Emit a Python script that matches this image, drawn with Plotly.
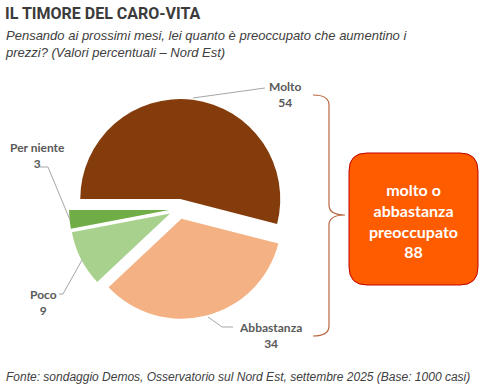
import plotly.graph_objects as go

W, H = 496, 387

# ---- data ----
categories = ["Molto", "Abbastanza", "Poco", "Per niente"]
values = [54, 34, 9, 3]
colors = ["#843C0C", "#F4B183", "#A9D18E", "#70AD47"]
summary_label = "molto o<br>abbastanza<br>preoccupato"
summary_value = values[0] + values[1]

title = "IL TIMORE DEL CARO-VITA"
subtitle = "Pensando ai prossimi mesi, lei quanto è preoccupato che aumentino i<br>prezzi? (Valori percentuali – Nord Est)"
footer = "Fonte: sondaggio Demos, Osservatorio sul Nord Est, settembre 2025 (Base: 1000 casi)"


def X(x):
    return x / W


def Y(y):
    return 1 - y / H


def path(points_cmds):
    out = []
    for cmd, pts in points_cmds:
        coords = " ".join(f"{X(a):.5f},{Y(b):.5f}" for a, b in pts)
        out.append(f"{cmd}{coords}")
    return " ".join(out)


fig = go.Figure()
fig.add_trace(go.Pie(
    labels=categories,
    values=values,
    sort=False,
    direction="clockwise",
    rotation=270,
    pull=[0.1, 0.1, 0.1, 0.1],
    marker=dict(colors=colors, line=dict(width=0)),
    textinfo="none",
    hoverinfo="label+value",
    showlegend=False,
    domain=dict(x=[X(69), X(289)], y=[Y(319), Y(99)]),
))

label_pos = {
    "Molto": (285, 94),
    "Abbastanza": (270, 335),
    "Poco": (43, 302),
    "Per niente": (37, 155),
}
leaders = {
    "Molto": [(193, 98), (265, 88)],
    "Abbastanza": [(208, 317), (222, 327), (233, 327)],
    "Poco": [(82, 260), (63, 294), (59, 294)],
    "Per niente": [(70, 220), (48, 167), (40, 167)],
}

annotations = []
shapes = []
for cat, val in zip(categories, values):
    x, y = label_pos[cat]
    annotations.append(dict(
        x=X(x), y=Y(y), xref="paper", yref="paper",
        text=f"<b>{cat}</b><br><b>{val}</b>",
        showarrow=False, xanchor="center", yanchor="middle",
        font=dict(family="Lato", size=12, color="#595959"),
    ))
    pts = leaders[cat]
    shapes.append(dict(
        type="path", xref="paper", yref="paper",
        path=path([("M", [pts[0]])] + [("L", [p]) for p in pts[1:]]),
        line=dict(color="#A6A6A6", width=1),
    ))

# curly brace
brace = path([
    ("M", [(313, 95)]),
    ("Q", [(329, 95), (329, 105)]),
    ("L", [(329, 205)]),
    ("Q", [(329, 215), (345, 215)]),
    ("Q", [(329, 215), (329, 225)]),
    ("L", [(329, 326)]),
    ("Q", [(329, 336), (313, 336)]),
])
shapes.append(dict(type="path", xref="paper", yref="paper", path=brace,
                   line=dict(color="#B9653F", width=1.2)))

# rounded box
x0, x1, y0, y1, r = 349, 478, 153, 285, 18
box = path([
    ("M", [(x0 + r, y0)]),
    ("L", [(x1 - r, y0)]),
    ("Q", [(x1, y0), (x1, y0 + r)]),
    ("L", [(x1, y1 - r)]),
    ("Q", [(x1, y1), (x1 - r, y1)]),
    ("L", [(x0 + r, y1)]),
    ("Q", [(x0, y1), (x0, y1 - r)]),
    ("L", [(x0, y0 + r)]),
    ("Q", [(x0, y0), (x0 + r, y0)]),
]) + " Z"
shapes.append(dict(type="path", xref="paper", yref="paper", path=box,
                   fillcolor="#FF5C00", line=dict(color="#C00000", width=1)))

annotations.append(dict(
    x=X(413.5), y=Y(220), xref="paper", yref="paper",
    text=f"<b>{summary_label}<br>{summary_value}</b>",
    showarrow=False, xanchor="center", yanchor="middle",
    font=dict(family="Lato", size=16, color="white"),
))

annotations.append(dict(
    x=X(3), y=Y(14), xref="paper", yref="paper", text=f"<b>{title}</b>",
    showarrow=False, xanchor="left", yanchor="middle",
    font=dict(family="Roboto", size=16, color="#3B3B3B"),
))
annotations.append(dict(
    x=X(3), y=Y(44), xref="paper", yref="paper", text=f"<i>{subtitle}</i>",
    showarrow=False, xanchor="left", yanchor="middle", align="left",
    font=dict(family="Liberation Sans", size=13, color="#404040"),
))
annotations.append(dict(
    x=X(4), y=Y(377), xref="paper", yref="paper", text=f"<i>{footer}</i>",
    showarrow=False, xanchor="left", yanchor="middle",
    font=dict(family="Liberation Sans", size=12, color="#404040"),
))

fig.update_layout(
    width=W, height=H,
    margin=dict(l=0, r=0, t=0, b=0),
    paper_bgcolor="white", plot_bgcolor="white",
    shapes=shapes, annotations=annotations,
    showlegend=False,
)

fig.write_html("out.html", config={"displayModeBar": False},
               post_script="document.body.style.margin='0';")
